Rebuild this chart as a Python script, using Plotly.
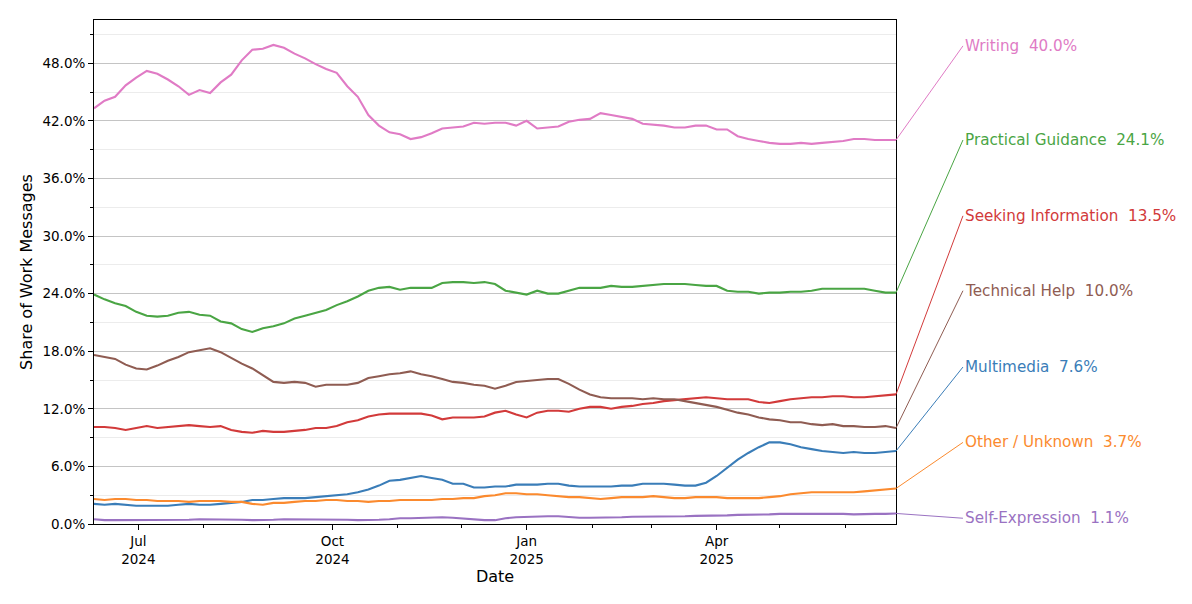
import pandas as pd
import plotly.graph_objects as go

dates = pd.date_range("2024-06-10", "2025-06-25", freq="5D")

writing = [43.3, 44.1, 44.5, 45.7, 46.5, 47.2, 46.9, 46.3, 45.6, 44.7,
           45.2, 44.9, 46.0, 46.8, 48.3, 49.4, 49.5, 49.9, 49.6, 49.0,
           48.5, 47.9, 47.4, 47.0, 45.6, 44.5, 42.6, 41.5, 40.8, 40.6,
           40.1, 40.3, 40.7, 41.2, 41.3, 41.4, 41.8, 41.7, 41.8, 41.8,
           41.5, 42.0, 41.2, 41.3, 41.4, 41.9, 42.1, 42.2, 42.8, 42.6,
           42.4, 42.2, 41.7, 41.6, 41.5, 41.3, 41.3, 41.5, 41.5, 41.1,
           41.1, 40.4, 40.1, 39.9, 39.7, 39.6, 39.6, 39.7, 39.6, 39.7,
           39.8, 39.9, 40.1, 40.1, 40.0, 40.0, 40.0]
practical = [23.9, 23.4, 23.0, 22.7, 22.1, 21.7, 21.6, 21.7, 22.0, 22.1,
             21.8, 21.7, 21.1, 20.9, 20.3, 20.0, 20.4, 20.6, 20.9, 21.4,
             21.7, 22.0, 22.3, 22.8, 23.2, 23.7, 24.3, 24.6, 24.7, 24.4,
             24.6, 24.6, 24.6, 25.1, 25.2, 25.2, 25.1, 25.2, 25.0, 24.3,
             24.1, 23.9, 24.3, 24.0, 24.0, 24.3, 24.6, 24.6, 24.6, 24.8,
             24.7, 24.7, 24.8, 24.9, 25.0, 25.0, 25.0, 24.9, 24.8, 24.8,
             24.3, 24.2, 24.2, 24.0, 24.1, 24.1, 24.2, 24.2, 24.3, 24.5,
             24.5, 24.5, 24.5, 24.5, 24.3, 24.1, 24.1]
seeking = [10.1, 10.1, 10.0, 9.8, 10.0, 10.2, 10.0, 10.1, 10.2, 10.3,
           10.2, 10.1, 10.2, 9.8, 9.6, 9.5, 9.7, 9.6, 9.6, 9.7,
           9.8, 10.0, 10.0, 10.2, 10.6, 10.8, 11.2, 11.4, 11.5, 11.5,
           11.5, 11.5, 11.3, 10.9, 11.1, 11.1, 11.1, 11.2, 11.6, 11.8,
           11.4, 11.1, 11.6, 11.8, 11.8, 11.7, 12.0, 12.2, 12.2, 12.0,
           12.2, 12.3, 12.5, 12.6, 12.8, 12.9, 13.0, 13.1, 13.2, 13.1,
           13.0, 13.0, 13.0, 12.7, 12.6, 12.8, 13.0, 13.1, 13.2, 13.2,
           13.3, 13.3, 13.2, 13.2, 13.3, 13.4, 13.5]
technical = [17.6, 17.4, 17.2, 16.6, 16.2, 16.1, 16.5, 17.0, 17.4, 17.9,
             18.1, 18.3, 17.9, 17.3, 16.7, 16.2, 15.5, 14.8, 14.7, 14.8,
             14.7, 14.3, 14.5, 14.5, 14.5, 14.7, 15.2, 15.4, 15.6, 15.7,
             15.9, 15.6, 15.4, 15.1, 14.8, 14.7, 14.5, 14.4, 14.1, 14.4,
             14.8, 14.9, 15.0, 15.1, 15.1, 14.6, 14.0, 13.5, 13.2, 13.1,
             13.1, 13.1, 13.0, 13.1, 13.0, 13.0, 12.8, 12.6, 12.4, 12.2,
             11.9, 11.6, 11.4, 11.1, 10.9, 10.8, 10.6, 10.6, 10.4, 10.3,
             10.4, 10.2, 10.2, 10.1, 10.1, 10.2, 10.0]
multimedia = [2.1, 2.0, 2.1, 2.0, 1.9, 1.9, 1.9, 1.9, 2.0, 2.1,
              2.0, 2.0, 2.1, 2.2, 2.3, 2.5, 2.5, 2.6, 2.7, 2.7,
              2.7, 2.8, 2.9, 3.0, 3.1, 3.3, 3.6, 4.0, 4.5, 4.6,
              4.8, 5.0, 4.8, 4.6, 4.2, 4.2, 3.8, 3.8, 3.9, 3.9,
              4.1, 4.1, 4.1, 4.2, 4.2, 4.0, 3.9, 3.9, 3.9, 3.9,
              4.0, 4.0, 4.2, 4.2, 4.2, 4.1, 4.0, 4.0, 4.3, 5.0,
              5.9, 6.7, 7.4, 8.0, 8.5, 8.5, 8.3, 8.0, 7.8, 7.6,
              7.5, 7.4, 7.5, 7.4, 7.4, 7.5, 7.6]
other = [2.6, 2.5, 2.6, 2.6, 2.5, 2.5, 2.4, 2.4, 2.4, 2.3,
         2.4, 2.4, 2.4, 2.3, 2.3, 2.1, 2.0, 2.2, 2.2, 2.3,
         2.4, 2.4, 2.5, 2.5, 2.4, 2.4, 2.3, 2.4, 2.4, 2.5,
         2.5, 2.5, 2.5, 2.6, 2.6, 2.7, 2.7, 2.9, 3.0, 3.2,
         3.2, 3.1, 3.1, 3.0, 2.9, 2.8, 2.8, 2.7, 2.6, 2.7,
         2.8, 2.8, 2.8, 2.9, 2.8, 2.7, 2.7, 2.8, 2.8, 2.8,
         2.7, 2.7, 2.7, 2.7, 2.8, 2.9, 3.1, 3.2, 3.3, 3.3,
         3.3, 3.3, 3.3, 3.4, 3.5, 3.6, 3.7]
selfexp = [0.5, 0.4, 0.4, 0.4, 0.4, 0.4, 0.4, 0.45, 0.45, 0.45,
           0.5, 0.5, 0.5, 0.45, 0.45, 0.4, 0.4, 0.45, 0.5, 0.5,
           0.5, 0.5, 0.5, 0.5, 0.45, 0.4, 0.4, 0.45, 0.5, 0.6,
           0.6, 0.65, 0.7, 0.7, 0.65, 0.55, 0.45, 0.4, 0.4, 0.6,
           0.7, 0.75, 0.8, 0.8, 0.8, 0.7, 0.65, 0.65, 0.65, 0.7,
           0.7, 0.75, 0.75, 0.75, 0.8, 0.8, 0.8, 0.85, 0.85, 0.9,
           0.9, 0.95, 0.95, 1.0, 1.0, 1.05, 1.05, 1.1, 1.1, 1.1,
           1.05, 1.05, 1.0, 1.05, 1.05, 1.05, 1.1]

names = ["Writing", "Practical Guidance", "Seeking Information", "Technical Help",
         "Multimedia", "Other / Unknown", "Self-Expression"]
series = [writing, practical, seeking, technical, multimedia, other, selfexp]
colors = ["#e07bc5", "#4aa544", "#d23a3a", "#8f5c52", "#3a7db8", "#fb8a2e", "#9a72c2"]
label_y = [49.8, 40.0, 32.1, 24.3, 16.35, 8.5, 0.6]

Y_MAX = 52.5
LABEL_X = 1.0835

fig = go.Figure()
for name, vals, col in zip(names, series, colors):
    fig.add_trace(go.Scatter(x=dates, y=vals, mode="lines", name=name,
                             line=dict(color=col, width=2.1), showlegend=False))

for name, vals, col, ly in zip(names, series, colors, label_y):
    last = vals[-1]
    fig.add_shape(type="line", xref="paper", yref="paper",
                  x0=1.0, y0=last / Y_MAX, x1=LABEL_X, y1=ly / Y_MAX,
                  line=dict(color=col, width=1))
    fig.add_annotation(xref="paper", yref="paper", x=LABEL_X, y=ly / Y_MAX,
                       xanchor="left", yanchor="middle", showarrow=False,
                       text=f"{name}\u00a0 {last:.1f}%",
                       font=dict(size=15.2, color=col, family="DejaVu Sans"))

fig.update_layout(
    width=1176, height=588,
    margin=dict(l=86, r=288, t=12, b=72),
    plot_bgcolor="white", paper_bgcolor="white",
    font=dict(family="DejaVu Sans", size=13.5, color="black"),
)
fig.update_xaxes(
    range=["2024-06-10", "2025-06-25"],
    tick0="2024-07-01", dtick="M3", tickformat="%b<br>%Y",
    ticks="outside", ticklen=5, tickcolor="black",
    showgrid=False, zeroline=False,
    showline=True, linecolor="black", linewidth=1, mirror=True,
    minor=dict(dtick="M1", tick0="2024-07-01", ticks="outside", ticklen=3, tickcolor="black", showgrid=False),
    title=dict(text="Date", standoff=4),
)
fig.update_yaxes(
    range=[0, Y_MAX], tick0=0, dtick=6, tickformat=".1f", ticksuffix="%",
    ticks="outside", ticklen=5, tickcolor="black",
    showgrid=True, gridcolor="#c4c4c4", gridwidth=1, zeroline=False,
    showline=True, linecolor="black", linewidth=1, mirror=True,
    minor=dict(dtick=3, tick0=0, ticks="outside", ticklen=3, tickcolor="black",
               showgrid=True, gridcolor="#ececec", gridwidth=1),
    title=dict(text="Share of Work Messages", standoff=5),
)

fig.write_html("out.html")
